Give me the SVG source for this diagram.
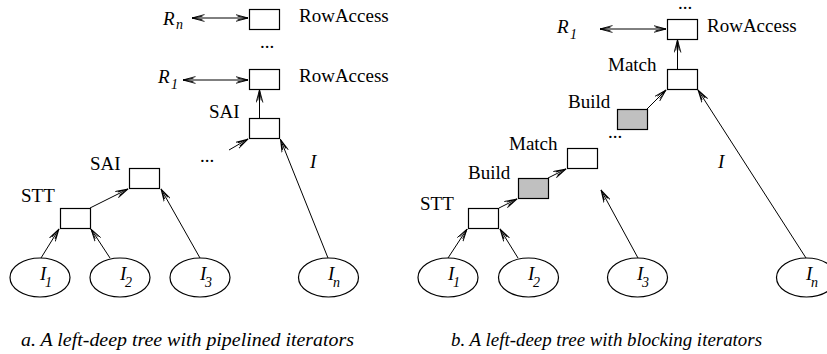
<svg xmlns="http://www.w3.org/2000/svg" width="827" height="354" viewBox="0 0 827 354">
<defs>
<marker id="ah" viewBox="0 0 13 8" refX="12.5" refY="4" markerWidth="13" markerHeight="8" markerUnits="userSpaceOnUse" orient="auto-start-reverse">
<path d="M0,0.6 L12.5,4 L0,7.4 M2,2.2 L12.5,4 L2,5.8" fill="none" stroke="#000" stroke-width="0.9"/>
</marker>
</defs>
<style>
.bx{fill:#fff;stroke:#000;stroke-width:1.2}
.gy{fill:#c0c0c0;stroke:#000;stroke-width:1.2}
.el{fill:#fff;stroke:#000;stroke-width:1.2}
text{font-family:'Liberation Serif','Tinos','DejaVu Serif',serif;fill:#000}
.t{font-size:19px}
.i{font-size:19px;font-style:italic}
.s{font-size:14px;font-style:italic}
.cap{font-size:18px;font-style:italic}
.c line{stroke:#000;stroke-width:1;marker-end:url(#ah)}
.c line.d{marker-start:url(#ah)}
</style>
<g class="c" id="connectors">
<line class="d" x1="192" y1="18" x2="248" y2="18"/>
<line class="d" x1="183" y1="80" x2="248" y2="80"/>
<line x1="259.5" y1="118" x2="259.5" y2="90"/>
<line x1="229" y1="150" x2="248" y2="139"/>
<line x1="328" y1="258" x2="280.5" y2="139.5"/>
<line x1="90" y1="208" x2="128" y2="189"/>
<line x1="200" y1="258" x2="161" y2="189"/>
<line x1="41" y1="258" x2="59" y2="229"/>
<line x1="110" y1="258" x2="91" y2="229"/>
<line class="d" x1="600" y1="29" x2="666" y2="29"/>
<line x1="677.5" y1="69" x2="677.5" y2="40"/>
<line x1="647" y1="109" x2="666" y2="90"/>
<line x1="548" y1="178" x2="566" y2="169"/>
<line x1="499" y1="208" x2="517" y2="199"/>
<line x1="448" y1="258" x2="467" y2="229"/>
<line x1="518" y1="258" x2="500" y2="229"/>
<line x1="638" y1="258" x2="601" y2="190"/>
<line x1="806" y1="258" x2="698" y2="90"/>
</g>
<g id="a-rowaccess-n"><rect class="bx" x="249.5" y="9.5" width="30" height="20"/><text class="t" x="299" y="22">RowAccess</text></g>
<g id="a-rn"><text class="i" x="163" y="25">R</text><text class="s" x="176" y="29">n</text></g>
<g id="a-dots1"><text class="t" x="260" y="48">...</text></g>
<g id="a-rowaccess-1"><rect class="bx" x="249.5" y="69.5" width="30" height="20"/><text class="t" x="299" y="82">RowAccess</text></g>
<g id="a-r1"><text class="i" x="158" y="83">R</text><text class="s" x="171" y="89">1</text></g>
<g id="a-sai-top"><rect class="bx" x="249.5" y="118.5" width="30" height="20"/><text class="t" x="209" y="118">SAI</text></g>
<g id="a-dots2"><text class="t" x="200" y="162">...</text></g>
<g id="a-i"><text class="i" x="310" y="168">I</text></g>
<g id="a-sai-low"><rect class="bx" x="129.5" y="168.5" width="30" height="20"/><text class="t" x="90" y="170">SAI</text></g>
<g id="a-stt"><rect class="bx" x="60.5" y="208.5" width="30" height="20"/><text class="t" x="21" y="202">STT</text></g>
<g id="a-i1"><ellipse class="el" cx="40" cy="277.5" rx="30" ry="19.5"/><text class="i" x="40" y="280">I</text><text class="s" x="45" y="287">1</text></g>
<g id="a-i2"><ellipse class="el" cx="120" cy="277.5" rx="30" ry="19.5"/><text class="i" x="120" y="280">I</text><text class="s" x="125" y="287">2</text></g>
<g id="a-i3"><ellipse class="el" cx="200" cy="277.5" rx="30" ry="19.5"/><text class="i" x="200" y="280">I</text><text class="s" x="205" y="287">3</text></g>
<g id="a-in"><ellipse class="el" cx="328.5" cy="277.5" rx="30" ry="19.5"/><text class="i" x="328" y="280">I</text><text class="s" x="333" y="287">n</text></g>
<g id="caption-a"><text class="cap" x="21" y="346" textLength="333" lengthAdjust="spacingAndGlyphs">a. A left-deep tree with pipelined iterators</text></g>
<g id="b-dots1"><text class="t" x="678" y="9">...</text></g>
<g id="b-rowaccess"><rect class="bx" x="667.5" y="19.5" width="30" height="20"/><text class="t" x="707" y="32">RowAccess</text></g>
<g id="b-r1"><text class="i" x="557" y="33">R</text><text class="s" x="570" y="39">1</text></g>
<g id="b-match-top"><rect class="bx" x="667.5" y="69.5" width="30" height="20"/><text class="t" x="608" y="71">Match</text></g>
<g id="b-build-top"><rect class="gy" x="617.5" y="109.5" width="30" height="20"/><text class="t" x="568" y="108">Build</text></g>
<g id="b-dots2"><text class="t" x="608" y="138">...</text></g>
<g id="b-match-low"><rect class="bx" x="567.5" y="148.5" width="30" height="20"/><text class="t" x="509" y="150">Match</text></g>
<g id="b-i"><text class="i" x="718" y="168">I</text></g>
<g id="b-build-low"><rect class="gy" x="518.5" y="178.5" width="30" height="20"/><text class="t" x="468" y="179">Build</text></g>
<g id="b-stt"><rect class="bx" x="468.5" y="208.5" width="30" height="20"/><text class="t" x="420" y="210">STT</text></g>
<g id="b-i1"><ellipse class="el" cx="448" cy="277.5" rx="30" ry="19.5"/><text class="i" x="448" y="280">I</text><text class="s" x="453" y="287">1</text></g>
<g id="b-i2"><ellipse class="el" cx="528.5" cy="277.5" rx="30" ry="19.5"/><text class="i" x="528" y="280">I</text><text class="s" x="533" y="287">2</text></g>
<g id="b-i3"><ellipse class="el" cx="637.5" cy="277.5" rx="30" ry="19.5"/><text class="i" x="637" y="280">I</text><text class="s" x="642" y="287">3</text></g>
<g id="b-in"><ellipse class="el" cx="806.5" cy="277.5" rx="30" ry="19.5"/><text class="i" x="806" y="280">I</text><text class="s" x="811" y="287">n</text></g>
<g id="caption-b"><text class="cap" x="451" y="346" textLength="311" lengthAdjust="spacingAndGlyphs">b. A left-deep tree with blocking iterators</text></g>
</svg>
